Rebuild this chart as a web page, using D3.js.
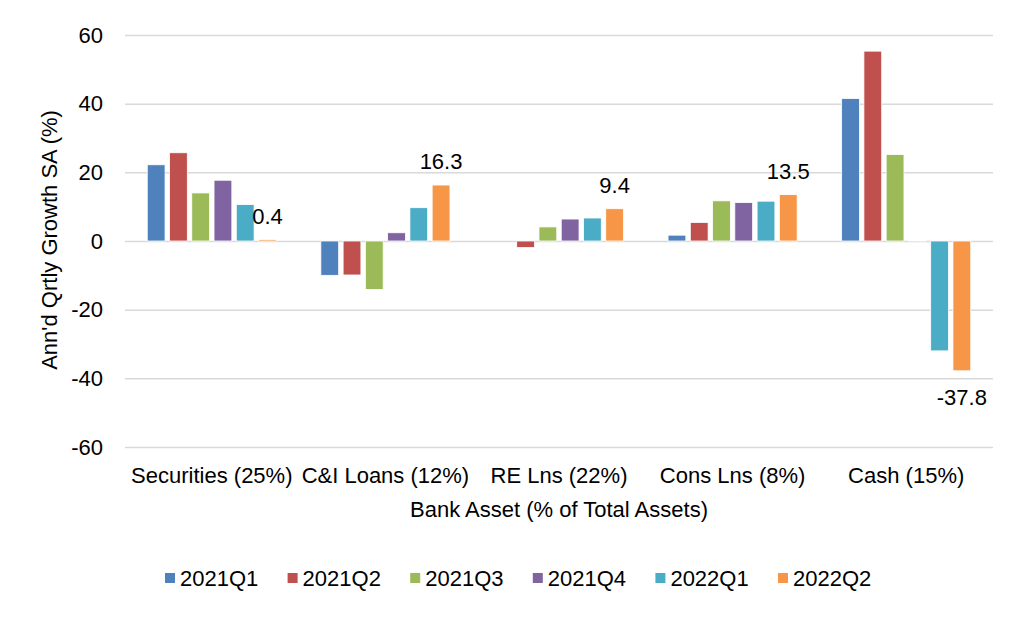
<!DOCTYPE html>
<html>
<head>
<meta charset="utf-8">
<script src="https://cdn.jsdelivr.net/npm/d3@7"></script>
<style>
  body { margin: 0; background: #fff; }
  svg { font-family: "Liberation Sans", Arial, sans-serif; }
</style>
</head>
<body>
<div id="chart"></div>
<script>
// Categories and series
const categories = ["Securities (25%)", "C&I Loans (12%)", "RE Lns (22%)", "Cons Lns (8%)", "Cash (15%)"];
const seriesNames = ["2021Q1", "2021Q2", "2021Q3", "2021Q4", "2022Q1", "2022Q2"];
const colors = ["#4F81BD", "#C0504D", "#9BBB59", "#8064A2", "#4BACC6", "#F79646"];

// values per series, in category order
const q2021_1 = [22.2, -10.0, 0.0, 1.7, 41.5];
const q2021_2 = [25.7, -9.9, -1.9, 5.4, 55.3];
const q2021_3 = [14.0, -14.1, 4.1, 11.7, 25.2];
const q2021_4 = [17.7, 2.4, 6.4, 11.2, 0.2];
const q2022_1 = [10.6, 9.7, 6.7, 11.6, -32.0];
const q2022_2 = [0.4, 16.3, 9.4, 13.5, -37.8];
const seriesValues = [q2021_1, q2021_2, q2021_3, q2021_4, q2022_1, q2022_2];

const yTicks = [-60, -40, -20, 0, 20, 40, 60];

var width = 1024, height = 618;
var plotLeft = 125, plotRight = 993, plotTop = 35, plotBottom = 447;
var fontSize = "22px";

var svg = d3.select("#chart").append("svg")
    .attr("width", width)
    .attr("height", height);

svg.append("rect").attr("width", width).attr("height", height).attr("fill", "#fff");

var y = d3.scaleLinear().domain([-60, 60]).range([plotBottom, plotTop]);

var x0 = d3.scaleBand()
    .domain(categories)
    .range([plotLeft, plotRight])
    .paddingInner(0.205)
    .paddingOuter(0.1025);

var x1 = d3.scaleBand()
    .domain(seriesNames)
    .range([0, x0.bandwidth()])
    .padding(0.2);

// gridlines + y tick labels (plain hyphen for negatives, like the original)
var yAxis = d3.axisLeft(y)
    .tickValues(yTicks)
    .tickFormat(function(d) { return String(d); })
    .tickSize(-(plotRight - plotLeft))
    .tickPadding(22);

var gy = svg.append("g")
    .attr("transform", "translate(" + plotLeft + ",0)")
    .call(yAxis);
gy.select(".domain").remove();
gy.selectAll(".tick line").attr("stroke", "#d9d9d9").attr("stroke-width", 1.5);
gy.selectAll(".tick text")
    .style("font-size", fontSize)
    .style("font-family", "Liberation Sans, Arial, sans-serif")
    .attr("fill", "#000");

// bars
for (let s = 0; s < seriesNames.length; s++) {
    let g = svg.append("g");
    for (let c = 0; c < categories.length; c++) {
        let v = seriesValues[s][c];
        let bx = x0(categories[c]) + x1(seriesNames[s]);
        g.append("rect")
            .attr("x", bx)
            .attr("y", y(Math.max(0, v)))
            .attr("width", x1.bandwidth())
            .attr("height", Math.abs(y(v) - y(0)))
            .attr("fill", colors[s])
            .attr("stroke", "#fff")
            .attr("stroke-width", 0.8);
    }
}

// data labels on last series
var last = seriesNames.length - 1;
for (let c = 0; c < categories.length; c++) {
    let v = seriesValues[last][c];
    let cx = x0(categories[c]) + x1(seriesNames[last]) + x1.bandwidth() / 2;
    svg.append("text")
        .attr("x", cx)
        .attr("y", v >= 0 ? y(v) - 16 : y(v) + 34)
        .attr("text-anchor", "middle")
        .style("font-size", fontSize)
        .text(v.toFixed(1));
}

// category labels
for (let c = 0; c < categories.length; c++) {
    svg.append("text")
        .attr("x", x0(categories[c]) + x0.bandwidth() / 2)
        .attr("y", 483)
        .attr("text-anchor", "middle")
        .style("font-size", fontSize)
        .text(categories[c]);
}

// axis titles
svg.append("text")
    .attr("x", (plotLeft + plotRight) / 2)
    .attr("y", 517)
    .attr("text-anchor", "middle")
    .style("font-size", fontSize)
    .text("Bank Asset (% of Total Assets)");

svg.append("text")
    .attr("transform", "translate(57,240) rotate(-90)")
    .attr("text-anchor", "middle")
    .style("font-size", fontSize)
    .text("Ann'd Qrtly Growth SA (%)");

// legend
var legend = svg.append("g").attr("transform", "translate(165,578)");
for (let s = 0; s < seriesNames.length; s++) {
    let item = legend.append("g").attr("transform", "translate(" + (s * 122.6) + ",0)");
    item.append("rect")
        .attr("x", 0).attr("y", -5)
        .attr("width", 10).attr("height", 10)
        .attr("fill", colors[s]);
    item.append("text")
        .attr("x", 15)
        .attr("y", 8)
        .style("font-size", fontSize)
        .text(seriesNames[s]);
}
</script>
</body>
</html>
